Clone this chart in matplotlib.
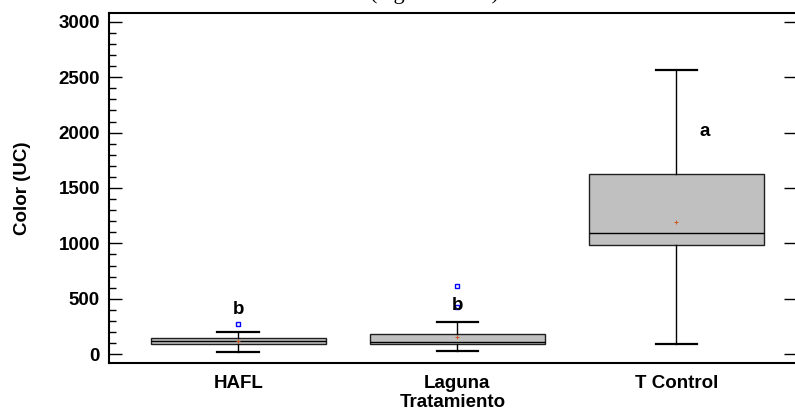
import matplotlib
matplotlib.use('Agg')
import matplotlib.pyplot as plt
from matplotlib.ticker import MultipleLocator

# Datos
tratamientos = ['HAFL', 'Laguna', 'T Control']
q1 = [90, 90, 986]
mediana = [115, 114, 1091]
q3 = [145, 181, 1624]
bigote_inf = [18, 24, 88]
bigote_sup = [199, 292, 2562]
media = [118, 151, 1190]
atipicos = [[274], [428, 615], []]
letras = ['b', 'b', 'a']
letra_y = [405, 440, 2010]
letra_dx = [0, 0, 0.13]

plt.rcParams['font.family'] = ['Liberation Sans', 'DejaVu Sans']

fig = plt.figure(figsize=(7.95, 4.13), dpi=100)
ax = fig.add_axes([109 / 795, 50 / 413, 688 / 795, 350 / 413])

stats = []
for i, t in enumerate(tratamientos):
    stats.append({'label': t, 'q1': q1[i], 'med': mediana[i], 'q3': q3[i],
                  'whislo': bigote_inf[i], 'whishi': bigote_sup[i],
                  'mean': media[i], 'fliers': atipicos[i]})

pos = [1, 2, 3]
ax.bxp(stats, positions=pos, widths=0.8, patch_artist=True, showmeans=True,
       capwidths=0.19,
       boxprops=dict(facecolor='#c0c0c0', edgecolor='#202020', linewidth=1.0),
       medianprops=dict(color='black', linewidth=1.0),
       whiskerprops=dict(color='black', linewidth=1.0),
       capprops=dict(color='black', linewidth=1.6),
       meanprops=dict(marker='+', markeredgecolor='#c85a1e', markersize=3, markeredgewidth=0.7),
       flierprops=dict(marker='s', markerfacecolor='none', markeredgecolor='#0000ff',
                       markersize=3, markeredgewidth=1.0))

for i, l in enumerate(letras):
    ax.text(pos[i] + letra_dx[i], letra_y[i], l, ha='center', va='center',
            fontsize=13.5, fontweight='bold')

ax.set_xlim(0.41, 3.55)
ax.set_ylim(-80, 3080)
ax.yaxis.set_major_locator(MultipleLocator(500))
ax.yaxis.set_minor_locator(MultipleLocator(100))
ax.tick_params(axis='y', which='major', direction='in', length=9.5, width=1, pad=6.5,
               labelsize=13.5, right=True)
ax.tick_params(axis='y', which='minor', direction='in', length=5, width=1)
ax.tick_params(axis='y', which='minor', right=False)
ax.tick_params(axis='x', length=0, pad=9, labelsize=13.5)
for lab in ax.get_yticklabels() + ax.get_xticklabels():
    lab.set_fontweight('bold')

ax.spines['right'].set_visible(False)
for s in ['top', 'left', 'bottom']:
    ax.spines[s].set_linewidth(1.5)

ax.set_ylabel('Color (UC)', fontsize=13.5, fontweight='bold', labelpad=20)
ax.set_xlabel('Tratamiento', fontsize=13.5, fontweight='bold', labelpad=1)

# titulo cortado por el borde superior, como en la imagen original
fig.text(435 / 795, 1.0 + 1.5 / 413, '(Agua tratada)', ha='center', va='baseline',
         fontsize=16, family='Liberation Serif')

fig.savefig('out.png', dpi=100)
